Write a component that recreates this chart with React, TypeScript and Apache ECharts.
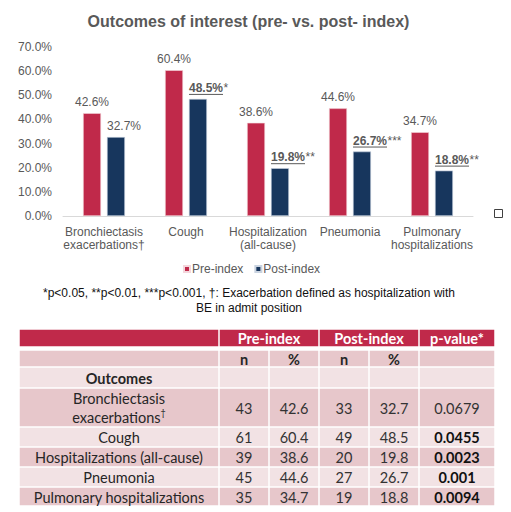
import React, { useEffect, useRef } from "react";
import * as echarts from "echarts";

const categories = [
  "Bronchiectasis\nexacerbations†",
  "Cough",
  "Hospitalization\n(all-cause)",
  "Pneumonia",
  "Pulmonary\nhospitalizations",
];
const preValues = [42.6, 60.4, 38.6, 44.6, 34.7];
const postValues = [32.7, 48.5, 19.8, 26.7, 18.8];
const postStars = ["", "*", "**", "***", "**"];
const yTicks = [0, 10, 20, 30, 40, 50, 60, 70];

const tableOutcomes = [
  "Bronchiectasis\nexacerbations{sup|†}",
  "Cough",
  "Hospitalizations (all-cause)",
  "Pneumonia",
  "Pulmonary hospitalizations",
];
const preN = [43, 61, 39, 45, 35];
const prePct = [42.6, 60.4, 38.6, 44.6, 34.7];
const postN = [33, 49, 20, 27, 19];
const postPct = [32.7, 48.5, 19.8, 26.7, 18.8];
const pValues = ["0.0679", "0.0455", "0.0023", "0.001", "0.0094"];
const pSignificant = [false, true, true, true, true];

const RED = "#C0294A";
const NAVY = "#17365D";
const GRAY = "#595959";
const DARK = "#E7C7CB";
const LIGHT = "#F2E2E4";
const FONT = '"Liberation Sans", Arial, sans-serif';
const TFONT = 'Lato, "Open Sans", sans-serif';

let measureCtx: CanvasRenderingContext2D | null = null;
function measure(txt: string, font: string): number {
  if (!measureCtx) measureCtx = document.createElement("canvas").getContext("2d");
  if (!measureCtx) return txt.length * 7;
  measureCtx.font = font;
  return measureCtx.measureText(txt).width;
}

function buildTable(): any[] {
  const els: any[] = [];
  const colX = [19, 219, 269, 319, 369, 419, 495];
  const g = 0.75;
  const cell = (x0: number, x1: number, y0: number, y1: number, fill: string) => {
    els.push({
      type: "rect",
      shape: { x: x0 + g, y: y0 + g, width: x1 - x0 - 2 * g, height: y1 - y0 - 2 * g },
      style: { fill },
      silent: true,
    });
  };
  const txt = (text: string, x: number, y: number, opts: any = {}) => {
    els.push({
      type: "text",
      style: {
        text,
        x,
        y,
        align: "center",
        verticalAlign: "middle",
        fontFamily: TFONT,
        fontSize: 14.5,
        fill: "#262626",
        ...opts,
      },
      silent: true,
    });
  };
  const hy0 = 329, hy1 = 347;
  const hdr: [number, number, string][] = [
    [colX[0], colX[1], ""],
    [colX[1], colX[3], "Pre-index"],
    [colX[3], colX[5], "Post-index"],
    [colX[5], colX[6], "p-value*"],
  ];
  hdr.forEach(([a, b, t]) => {
    cell(a, b, hy0, hy1, RED);
    if (t) txt(t, (a + b) / 2, (hy0 + hy1) / 2 + 0.5, { fill: "#fff", fontWeight: "bold" });
  });
  const rowY = [350, 367, 388, 427, 447, 467, 487, 506];
  const rowFill = [DARK, LIGHT, DARK, LIGHT, DARK, LIGHT, DARK];
  for (let r = 0; r < 7; r++) {
    for (let c = 0; c < 6; c++) cell(colX[c], colX[c + 1], rowY[r], rowY[r + 1], rowFill[r]);
  }
  const cx = (c: number) => (colX[c] + colX[c + 1]) / 2;
  const cy = (r: number) => (rowY[r] + rowY[r + 1]) / 2 + 0.5;
  ["n", "%", "n", "%"].forEach((t, i) => txt(t, cx(i + 1), cy(0), { fontWeight: "bold" }));
  txt("Outcomes", cx(0), cy(1), { fontWeight: "bold" });
  for (let i = 0; i < tableOutcomes.length; i++) {
    const r = i + 2;
    txt(tableOutcomes[i], cx(0), cy(r), {
      lineHeight: 19,
      rich: { sup: { fontSize: 9, verticalAlign: "top", fontFamily: TFONT, fill: "#262626", padding: [0, 0, 6, 0] } },
    });
    txt(String(preN[i]), cx(1), cy(r), { fill: "#333" });
    txt(prePct[i].toFixed(1), cx(2), cy(r), { fill: "#333" });
    txt(String(postN[i]), cx(3), cy(r), { fill: "#333" });
    txt(postPct[i].toFixed(1), cx(4), cy(r), { fill: "#333" });
    txt(pValues[i], cx(5), cy(r), pSignificant[i] ? { fontWeight: "bold", fill: "#111" } : { fill: "#333" });
  }
  return els;
}

export default function App() {
  const ref = useRef<HTMLDivElement>(null);
  useEffect(() => {
    if (!ref.current) return;
    const chart = echarts.init(ref.current, undefined, { renderer: "svg" });
    const option: any = {
      animation: false,
      backgroundColor: "#fff",
      textStyle: { fontFamily: FONT },
      grid: { left: 63, top: 47, width: 410, height: 169, containLabel: false },
      legend: {
        data: ["Pre-index", "Post-index"],
        left: 183,
        top: 263,
        padding: 0,
        icon: "rect",
        itemWidth: 6,
        itemHeight: 6,
        itemGap: 11,
        textStyle: { fontSize: 12, color: GRAY, fontFamily: FONT, padding: [0, 0, 0, -3] },
      },
      xAxis: {
        type: "category",
        data: categories,
        axisLine: { lineStyle: { color: "#D9D9D9", width: 1 } },
        axisTick: { show: false },
        axisLabel: { color: GRAY, fontSize: 12, lineHeight: 13, margin: 9, interval: 0, fontFamily: FONT },
      },
      yAxis: {
        type: "value",
        min: yTicks[0],
        max: yTicks[yTicks.length - 1],
        interval: 10,
        axisLine: { show: false },
        axisTick: { show: false },
        splitLine: { show: false },
        axisLabel: {
          color: GRAY,
          fontSize: 12,
          margin: 11,
          fontFamily: FONT,
          formatter: (v: number) => v.toFixed(1) + "%",
        },
      },
      series: [
        {
          name: "Pre-index",
          type: "bar",
          data: preValues,
          barWidth: 18,
          barGap: "33%",
          itemStyle: { color: RED, borderColor: "#F4D6DC", borderWidth: 0.6 },
          label: {
            show: true,
            position: "top",
            distance: 5,
            color: GRAY,
            fontSize: 12,
            fontFamily: FONT,
            formatter: (p: any) => p.value.toFixed(1) + "%",
          },
        },
        {
          name: "Post-index",
          type: "bar",
          data: postValues,
          barWidth: 18,
          barGap: "33%",
          itemStyle: { color: NAVY, borderColor: "#C9D3E0", borderWidth: 0.6 },
        },
        {
          name: "postLabels",
          type: "custom",
          silent: true,
          z: 5,
          data: postValues.map((v, i) => [i, v]),
          encode: { x: 0, y: 1 },
          renderItem: (params: any, api: any) => {
            const i = api.value(0);
            const v = api.value(1);
            const pt = api.coord([i, v]);
            const x = pt[0] + 3;
            const yb = pt[1] - 5;
            const stars = postStars[params.dataIndex];
            const sig = stars.length > 0;
            const main = v.toFixed(1) + "%";
            const w = measure(main, (sig ? "bold " : "") + "12px " + FONT);
            const children: any[] = [
              {
                type: "text",
                style: {
                  text: main,
                  x,
                  y: yb,
                  align: "left",
                  verticalAlign: "bottom",
                  fill: GRAY,
                  fontSize: 12,
                  fontWeight: sig ? "bold" : "normal",
                  fontFamily: FONT,
                },
              },
            ];
            if (sig) {
              children.push({
                type: "line",
                shape: { x1: x, y1: yb + 0.5, x2: x + w, y2: yb + 0.5 },
                style: { stroke: GRAY, lineWidth: 1 },
              });
              children.push({
                type: "text",
                style: {
                  text: stars,
                  x: x + w + 0.5,
                  y: yb,
                  align: "left",
                  verticalAlign: "bottom",
                  fill: GRAY,
                  fontSize: 12,
                  fontFamily: FONT,
                },
              });
            }
            return { type: "group", children };
          },
        },
      ],
      graphic: [
        {
          type: "text",
          style: {
            text: "Outcomes of interest (pre- vs. post- index)",
            x: 248.5,
            y: 21,
            align: "center",
            verticalAlign: "middle",
            fontSize: 16,
            fontWeight: "bold",
            fill: GRAY,
            fontFamily: FONT,
          },
          silent: true,
        },
        {
          type: "text",
          style: {
            text: "*p<0.05, **p<0.01, ***p<0.001, †: Exacerbation defined as hospitalization with\nBE in admit position",
            x: 249,
            y: 300,
            align: "center",
            verticalAlign: "middle",
            fontSize: 12,
            lineHeight: 15,
            fill: "#111",
            fontFamily: FONT,
          },
          silent: true,
        },
        {
          type: "rect",
          shape: { x: 494.5, y: 209.5, width: 8, height: 8 },
          style: { fill: "#fff", stroke: "#404040", lineWidth: 1 },
          silent: true,
        },
        ...buildTable(),
      ],
    };
    chart.setOption(option);
    return () => chart.dispose();
  }, []);
  return (
    <div
      ref={ref}
      style={{ position: "absolute", left: 0, top: 0, width: 511, height: 512 }}
    />
  );
}
